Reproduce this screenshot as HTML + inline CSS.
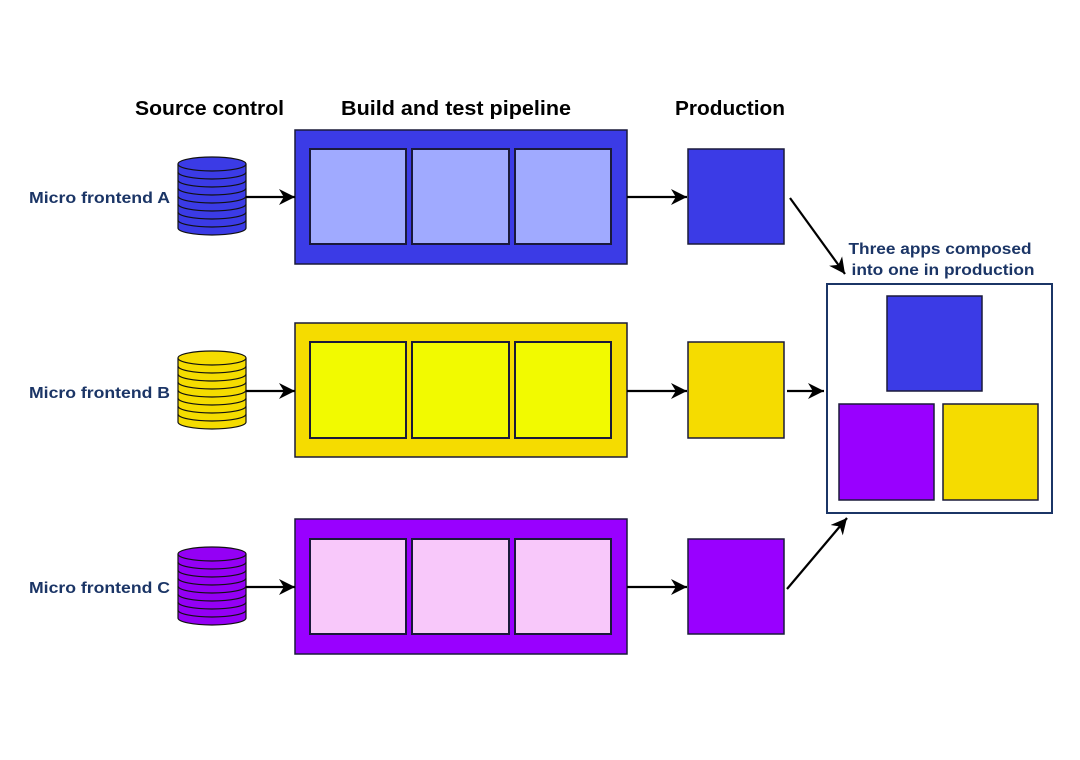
<!DOCTYPE html>
<html><head><meta charset="utf-8"><style>html,body{margin:0;padding:0;background:#fff}svg{display:block}</style></head>
<body>
<svg width="1080" height="760" viewBox="0 0 1080 760" xmlns="http://www.w3.org/2000/svg" font-family="Liberation Sans, sans-serif">
<defs>
<marker id="a2" viewBox="0 0 10 10" markerWidth="20" markerHeight="16" refX="10" refY="5" orient="auto" markerUnits="userSpaceOnUse"><path d="M0,0 L10,5 L0,10 L3,5 Z" fill="#000"/></marker>
</defs>
<g font-weight="bold" font-size="20" fill="#000">
<text x="135" y="115" textLength="149" lengthAdjust="spacingAndGlyphs">Source control</text>
<text x="341" y="115" textLength="230" lengthAdjust="spacingAndGlyphs">Build and test pipeline</text>
<text x="675" y="115" textLength="110" lengthAdjust="spacingAndGlyphs">Production</text>
</g>
<g font-weight="bold" font-size="16" fill="#1b3566">
<text x="29" y="203" textLength="141" lengthAdjust="spacingAndGlyphs">Micro frontend A</text>
<text x="29" y="398" textLength="141" lengthAdjust="spacingAndGlyphs">Micro frontend B</text>
<text x="29" y="593" textLength="141" lengthAdjust="spacingAndGlyphs">Micro frontend C</text>
<text x="940" y="254" text-anchor="middle" textLength="183" lengthAdjust="spacingAndGlyphs">Three apps composed</text>
<text x="943" y="275" text-anchor="middle" textLength="183" lengthAdjust="spacingAndGlyphs">into one in production</text>
</g>
<g stroke="#111" stroke-width="1.2">
<g fill="#3b3be6">
<rect x="178" y="164" width="68" height="64" stroke="none"/>
<path d="M178,164 V228 M246,164 V228"/>
<path d="M178,228 A34,7 0 0 0 246,228"/>
<path d="M178,220 A34,7 0 0 0 246,220" fill="none"/><path d="M178,212 A34,7 0 0 0 246,212" fill="none"/><path d="M178,204 A34,7 0 0 0 246,204" fill="none"/><path d="M178,196 A34,7 0 0 0 246,196" fill="none"/><path d="M178,188 A34,7 0 0 0 246,188" fill="none"/><path d="M178,180 A34,7 0 0 0 246,180" fill="none"/><path d="M178,172 A34,7 0 0 0 246,172" fill="none"/>
<ellipse cx="212" cy="164" rx="34" ry="7"/>
</g>
<g fill="#f5dc00">
<rect x="178" y="358" width="68" height="64" stroke="none"/>
<path d="M178,358 V422 M246,358 V422"/>
<path d="M178,422 A34,7 0 0 0 246,422"/>
<path d="M178,414 A34,7 0 0 0 246,414" fill="none"/><path d="M178,406 A34,7 0 0 0 246,406" fill="none"/><path d="M178,398 A34,7 0 0 0 246,398" fill="none"/><path d="M178,390 A34,7 0 0 0 246,390" fill="none"/><path d="M178,382 A34,7 0 0 0 246,382" fill="none"/><path d="M178,374 A34,7 0 0 0 246,374" fill="none"/><path d="M178,366 A34,7 0 0 0 246,366" fill="none"/>
<ellipse cx="212" cy="358" rx="34" ry="7"/>
</g>
<g fill="#9400f5">
<rect x="178" y="554" width="68" height="64" stroke="none"/>
<path d="M178,554 V618 M246,554 V618"/>
<path d="M178,618 A34,7 0 0 0 246,618"/>
<path d="M178,610 A34,7 0 0 0 246,610" fill="none"/><path d="M178,602 A34,7 0 0 0 246,602" fill="none"/><path d="M178,594 A34,7 0 0 0 246,594" fill="none"/><path d="M178,586 A34,7 0 0 0 246,586" fill="none"/><path d="M178,578 A34,7 0 0 0 246,578" fill="none"/><path d="M178,570 A34,7 0 0 0 246,570" fill="none"/><path d="M178,562 A34,7 0 0 0 246,562" fill="none"/>
<ellipse cx="212" cy="554" rx="34" ry="7"/>
</g>
</g>
<g stroke="#1a1a3a" stroke-width="1.5">
<rect x="295" y="130" width="332" height="134" fill="#3b3be6"/>
<rect x="310" y="149" width="96" height="95" fill="#a0aaff" stroke-width="2"/>
<rect x="412" y="149" width="97" height="95" fill="#a0aaff" stroke-width="2"/>
<rect x="515" y="149" width="96" height="95" fill="#a0aaff" stroke-width="2"/>
<rect x="295" y="323" width="332" height="134" fill="#f5dc00"/>
<rect x="310" y="342" width="96" height="96" fill="#f2fa00" stroke-width="2"/>
<rect x="412" y="342" width="97" height="96" fill="#f2fa00" stroke-width="2"/>
<rect x="515" y="342" width="96" height="96" fill="#f2fa00" stroke-width="2"/>
<rect x="295" y="519" width="332" height="135" fill="#9900ff"/>
<rect x="310" y="539" width="96" height="95" fill="#f8c8fa" stroke-width="2"/>
<rect x="412" y="539" width="97" height="95" fill="#f8c8fa" stroke-width="2"/>
<rect x="515" y="539" width="96" height="95" fill="#f8c8fa" stroke-width="2"/>
<rect x="688" y="149" width="96" height="95" fill="#3b3be6"/>
<rect x="688" y="342" width="96" height="96" fill="#f5dc00"/>
<rect x="688" y="539" width="96" height="95" fill="#9900ff"/>
</g>
<rect x="827" y="284" width="225" height="229" fill="#fff" stroke="#1b3566" stroke-width="2"/>
<g stroke="#1a1a3a" stroke-width="1.5">
<rect x="887" y="296" width="95" height="95" fill="#3b3be6"/>
<rect x="839" y="404" width="95" height="96" fill="#9900ff"/>
<rect x="943" y="404" width="95" height="96" fill="#f5dc00"/>
</g>
<g stroke="#000" stroke-width="2.2" fill="none" marker-end="url(#a2)">
<line x1="246" y1="197" x2="295" y2="197"/>
<line x1="246" y1="391" x2="295" y2="391"/>
<line x1="246" y1="587" x2="295" y2="587"/>
<line x1="627" y1="197" x2="687" y2="197"/>
<line x1="627" y1="391" x2="687" y2="391"/>
<line x1="627" y1="587" x2="687" y2="587"/>
<line x1="787" y1="391" x2="824" y2="391"/>
<line x1="790" y1="198" x2="845" y2="274"/>
<line x1="787" y1="589" x2="847" y2="518"/>
</g>
</svg>
</body></html>
